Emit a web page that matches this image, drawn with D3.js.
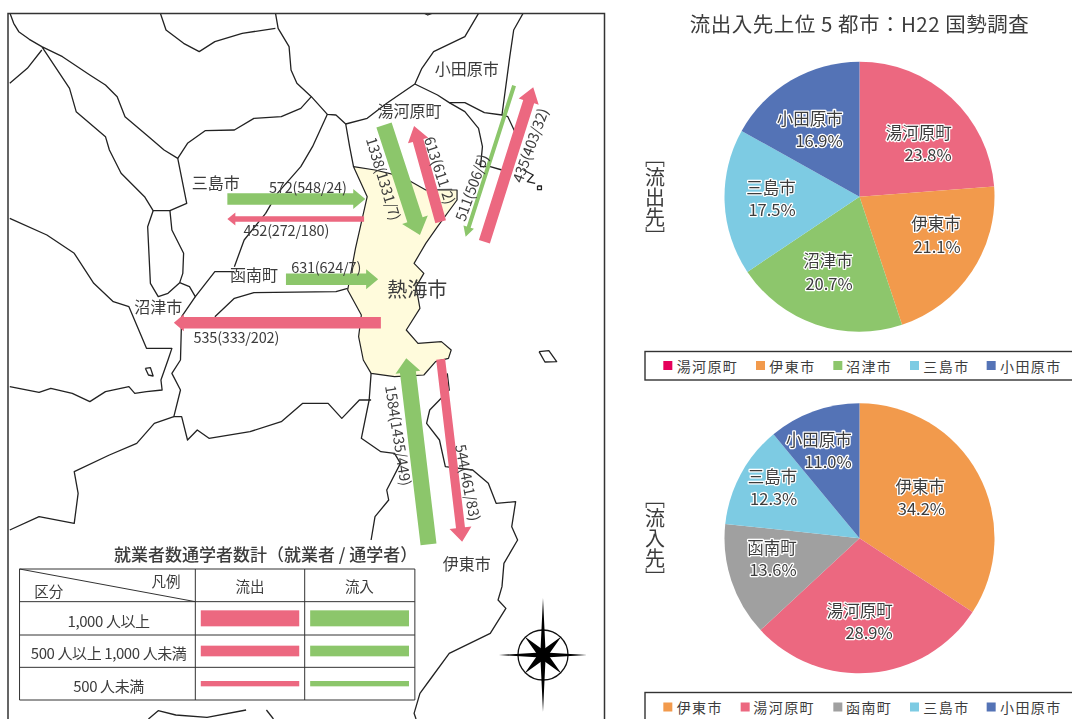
<!DOCTYPE html>
<html lang="ja"><head><meta charset="utf-8">
<script src="https://cdnjs.cloudflare.com/ajax/libs/d3/7.8.5/d3.min.js"></script>
<style>
html,body{margin:0;padding:0;background:#fff;overflow:hidden}
svg{display:block;filter:blur(.45px)}
text{font-family:"Noto Sans CJK JP","Noto Sans",sans-serif;fill:#3c3c3c}
</style></head><body><svg id="c" width="1072" height="719"></svg>
<script>
// ---------- chart data ----------
const titleText = "流出入先上位 5 都市：H22 国勢調査";
const outNames = ["湯河原町","伊東市","沼津市","三島市","小田原市"];
const outValues = [23.8,21.1,20.7,17.5,16.9];
const inNames = ["伊東市","湯河原町","函南町","三島市","小田原市"];
const inValues = [34.2,28.9,13.6,12.3,11.0];
const flowLabels = ["572(548/24)","452(272/180)","631(624/7)","535(333/202)","1338(1331/7)","613(611/2)","511(506/5)","435(403/32)","1584(1435/449)","544(461/83)"];
const flowKinds = ["in","out","in","out","in","out","in","out","in","out"];
const legendRows = ["1,000 人以上","500 人以上 1,000 人未満","500 人未満"];

// ---------- map geometry (map units) ----------
const boundaries = [
 [[25,38],[35,70],[48,95],[75,118],[107,140],[160,170],[230,225],[270,255],[300,290],[320,350],[385,415],[420,450],[455,475],[478,610],[435,632],[392,632],[370,590],[310,520],[280,450],[270,410],[195,335],[178,265],[107,140]],
 [[107,150],[70,205],[25,250]],
 [[455,475],[480,430],[525,392],[600,390],[650,355],[720,350],[770,325],[797,290],[760,250],[745,210],[740,140],[712,85],[705,38]],
 [[705,85],[620,100],[550,125],[510,155],[470,130],[425,90],[410,38]],
 [[797,290],[838,343],[860,345],[885,372],[895,440],[905,500]],
 [[885,372],[940,355],[990,310],[1062,252],[1080,205],[1110,155],[1190,110],[1225,40]],
 [[1062,252],[1120,285],[1150,308],[1190,308],[1240,338],[1285,345],[1300,350],[1318,395]],
 [[1150,308],[1190,335],[1225,385],[1235,440],[1230,500],[1255,500],[1285,510]],
 [[1340,38],[1315,90],[1305,170],[1285,345]],
 [[838,343],[800,440],[770,500],[710,580],[680,640],[625,720],[600,800]],
 [[600,815],[550,815],[520,860],[500,890],[485,860],[460,848],[430,880],[405,890],[385,850],[378,680],[392,632]],
 [[435,632],[440,690],[470,760],[468,820],[460,848]],
 [[500,890],[465,950],[462,1080],[440,1120],[462,1170],[445,1250],[465,1250],[480,1320],[505,1290],[535,1315],[640,1295],[720,1265],[775,1210],[840,1210],[875,1255],[920,1200],[950,1200]],
 [[25,655],[120,705],[190,760],[240,850],[290,905],[330,920],[375,1045],[440,1045],[430,1080],[412,1140],[415,1170],[375,1175],[345,1180],[330,1160],[270,1175],[230,1205],[185,1180],[130,1165],[100,1177],[25,1160]],
 [[550,950],[600,895],[650,878],[860,875],[890,865]],
 [[25,1590],[100,1550],[190,1570],[200,1480],[190,1415],[280,1365],[350,1330],[395,1270],[445,1250]],
 [[950,1120],[945,1200],[925,1315],[975,1355],[1010,1360],[1025,1390],[990,1470],[995,1500],[960,1550],[950,1620]],
 [[1145,1120],[1150,1170],[1100,1230],[1092,1270],[1125,1320],[1140,1400],[1210,1410],[1250,1450],[1270,1510],[1320,1505],[1310,1580],[1325,1620],[1290,1690],[1285,1760],[1275,1800],[1295,1825],[1255,1900],[1150,1960],[1100,2040],[1075,2080],[1060,2140],[1065,2157]],
 [[380,2157],[405,2132],[450,2145],[530,2152],[630,2130]],
 [[682,2130],[700,2157]],
 [[1080,36],[1095,45],[1115,36]],
 [[1380,1055],[1405,1052],[1425,1085],[1395,1086],[1380,1055]],
 [[372,1105],[385,1103],[392,1128],[380,1125],[372,1105]],
 [[1340,510],[1365,525],[1350,545],[1370,550]],
 [[1376,558],[1386,558],[1386,569],[1376,569],[1376,558]]
];
const atamiArea = [[905,500],[960,510],[1030,530],[1090,570],[1170,570],[1170,600],[1120,680],[1090,730],[1060,790],[1085,820],[1065,860],[1075,925],[1040,990],[1070,1030],[1130,1025],[1155,1050],[1148,1075],[1115,1085],[1085,1125],[1010,1130],[950,1120],[930,1080],[918,1010],[925,945],[890,870],[910,745],[940,590]];
const flowEnds = [
 [[582,597],[935,597]],[[932,657],[582,657]],[[732,838],[968,838]],[[975,968],[445,968]],
 [[983,375],[1075,705]],[[1128,665],[1060,378]],[[1316,257],[1192,710]],[[1240,725],[1365,262]],
 [[1097,1633],[1040,1075]],[[1128,1078],[1183,1625]]
];
const flowShape = [[11.5,20,12],[5.5,13,8],[11.5,20,12],[11.5,17,10],[16,27,16],[11,21,15],[4,11,10],[11.5,21,15],[16,25,14],[9,22,14]];
const flowLabelAt = [[788,558,0],[733,688,0],[835,800,0],[605,1008,0],[984,535,73],[1128,510,72],[1205,562,-70],[1355,435,-70],[1022,1306,81],[1200,1447,79]];
const placeNames = [["小田原市",1195,205,16],["湯河原町",1048,330,16],["三島市",552,547,16],["函南町",650,822,16],["沼津市",405,918,16],["伊東市",1195,1690,16],["熱海市",1068,866,20]];

// ---------- scales ----------
const svg = d3.select("#c");
const mx = d3.scaleLinear().domain([0,1560]).range([0,609.4]);
const my = d3.scaleLinear().domain([0,1080]).range([0,360]);
const line = d3.line().x(d=>mx(d[0])).y(d=>my(d[1]));
const pxLine = d3.line();
const flowColor = d3.scaleOrdinal().domain(["in","out"]).range(["#8cc66b","#ec6880"]);
const cityColor = d3.scaleOrdinal()
 .domain(["湯河原町","伊東市","沼津市","三島市","小田原市","函南町"])
 .range(["#ec6880","#f29a4c","#8dc66c","#7dcbe3","#5473b6","#a0a0a0"]);

// ---------- map ----------
svg.append("clipPath").attr("id","fr").append("rect").attr("x",8).attr("y",13).attr("width",597).attr("height",710);
const map = svg.append("g").attr("clip-path","url(#fr)");
map.selectAll("path.b").data(boundaries).join("path").attr("class","b")
 .attr("d",line).attr("fill","none").attr("stroke","#222").attr("stroke-width",1.3).attr("stroke-linejoin","round");
map.append("path").attr("d",line(atamiArea)+"Z").attr("fill","#fffbdc").attr("stroke","#222").attr("stroke-width",1.2).attr("stroke-linejoin","round");
svg.append("rect").attr("x",8).attr("y",13.5).attr("width",596.5).attr("height",720).attr("fill","none").attr("stroke","#333").attr("stroke-width",1.5);

function arrowPts(e,s){
 const a=[mx(e[0][0]),my(e[0][1])],b=[mx(e[1][0]),my(e[1][1])],[w,hw,hl]=s,dx=b[0]-a[0],dy=b[1]-a[1],L=Math.hypot(dx,dy),ux=dx/L,uy=dy/L,nx=-uy,ny=ux;
 const p=(t,o)=>[a[0]+ux*t+nx*o,a[1]+uy*t+ny*o];
 return [p(0,w/2),p(L-hl,w/2),p(L-hl,hw/2),p(L,0),p(L-hl,-hw/2),p(L-hl,-w/2),p(0,-w/2)];
}
map.selectAll("path.f").data(flowEnds).join("path").attr("class","f")
 .attr("d",(d,i)=>pxLine(arrowPts(d,flowShape[i]))+"Z").attr("fill",(d,i)=>flowColor(flowKinds[i]));
map.selectAll("text.fl").data(flowLabels).join("text").attr("class","fl")
 .attr("transform",(d,i)=>`translate(${mx(flowLabelAt[i][0])},${my(flowLabelAt[i][1])}) rotate(${flowLabelAt[i][2]})`)
 .attr("text-anchor","middle").attr("dominant-baseline","central")
 .attr("font-size",14.5).attr("letter-spacing",-.2).text(d=>d);
map.selectAll("text.pn").data(placeNames).join("text").attr("class","pn")
 .attr("x",d=>mx(d[1])).attr("y",d=>my(d[2])).attr("font-size",d=>d[3])
 .attr("text-anchor","middle").attr("dominant-baseline","central").text(d=>d[0]);

// ---------- map legend ----------
const lg = map.append("g");
const colX=[50,500,780,1062], rowY=[1707,1805,1905,2002,2100];
lg.append("text").attr("x",mx(680)).attr("y",my(1660)).attr("text-anchor","middle").attr("dominant-baseline","central")
 .attr("font-size",17).attr("font-weight",500).text("就業者数通学者数計（就業者 / 通学者）");
lg.append("rect").attr("x",mx(colX[0])).attr("y",my(rowY[0])).attr("width",mx(colX[3])-mx(colX[0])).attr("height",my(rowY[4])-my(rowY[0])).attr("fill","#fff");
lg.selectAll("line.r").data(rowY).join("line").attr("class","r").attr("x1",mx(colX[0])).attr("x2",mx(colX[3])).attr("y1",d=>my(d)).attr("y2",d=>my(d)).attr("stroke","#333");
lg.selectAll("line.c").data(colX).join("line").attr("class","c").attr("y1",my(rowY[0])).attr("y2",my(rowY[4])).attr("x1",d=>mx(d)).attr("x2",d=>mx(d)).attr("stroke","#333");
lg.append("line").attr("x1",mx(colX[0])).attr("y1",my(rowY[0])).attr("x2",mx(colX[1])).attr("y2",my(rowY[1])).attr("stroke","#333");
[["凡例",425,1740],["区分",125,1772],["流出",640,1757],["流入",920,1757]].forEach(t=>{
 lg.append("text").attr("x",mx(t[1])).attr("y",my(t[2])).attr("text-anchor","middle").attr("dominant-baseline","central").attr("font-size",14.5).text(t[0]);
});
const rowCy=[1855,1953,2051], barH=[48,32,16];
lg.selectAll("text.lr").data(legendRows).join("text").attr("class","lr").attr("x",mx(278)).attr("y",(d,i)=>my(rowCy[i]+5))
 .attr("text-anchor","middle").attr("dominant-baseline","central").attr("font-size",15).attr("letter-spacing",-.4).text(d=>d);
[[514,766,"out"],[794,1047,"in"]].forEach(c=>{
 lg.selectAll("rect.k"+c[2]).data(legendRows).join("rect").attr("class","k"+c[2])
  .attr("x",mx(c[0])).attr("width",mx(c[1])-mx(c[0])).attr("y",(d,i)=>my(rowCy[i]-barH[i]/2)).attr("height",(d,i)=>my(barH[i])).attr("fill",flowColor(c[2]));
});

// ---------- compass ----------
const cmp = map.append("g").attr("transform",`translate(${mx(1390)},${my(1965)})`);
cmp.append("circle").attr("r",25).attr("fill","none").attr("stroke","#111").attr("stroke-width",1.3);
const star=(rx,ry,w,a)=>cmp.append("path").attr("transform",`rotate(${a})`).attr("fill","#000")
 .attr("d",`M0 ${-ry}L${w} ${-w}L${rx} 0L${w} ${w}L0 ${ry}L${-w} ${w}L${-rx} 0L${-w} ${-w}Z`);
star(44,57,2.6,0); star(26,26,3.8,45);

// ---------- pies ----------
const arc = d3.arc().innerRadius(0).outerRadius(135);
const pie = d3.pie().sort(null);
function drawPie(names,vals,cx,cy,labelPos){
 const g = svg.append("g").attr("transform",`translate(${cx},${cy})`);
 g.selectAll("path").data(pie(vals)).join("path").attr("d",arc).attr("fill",(d,i)=>cityColor(names[i]));
 const t = svg.append("g");
 names.forEach((n,i)=>{
  const p=labelPos[i];
  [[n,p[1]],[vals[i].toFixed(1)+"%",p[2]]].forEach(r=>{
   t.append("text").attr("x",630+p[0]/3).attr("y",r[1]/3).attr("text-anchor","end").attr("dominant-baseline","central")
    .attr("font-size",16.5).attr("stroke","#fff").attr("stroke-width",2.6).attr("paint-order","stroke").attr("stroke-linejoin","round").text(r[0]);
  });
 });
}
drawPie(outNames,outValues,859.5,196.7,[[965,395,462],[992,670,738],[668,780,848],[497,560,628],[638,353,420]]);
drawPie(inNames,inValues,859.5,538.3,[[945,1458,1525],[788,1830,1897],[500,1640,1707],[502,1428,1495],[665,1317,1383]]);

// ---------- titles ----------
svg.append("text").attr("x",859.5).attr("y",23).attr("text-anchor","middle").attr("dominant-baseline","central").attr("font-size",20.5).attr("letter-spacing",.5).text(titleText);
[["［流出先］",197],["［流入先］",538]].forEach(d=>{
 svg.append("text").attr("transform",`translate(655,${d[1]})`).style("writing-mode","vertical-rl").attr("text-anchor","middle").attr("dominant-baseline","central")
  .attr("font-size",20).text(d[0]);
});

// ---------- pie legends ----------
function drawLegend(names,y0,y1,cy,sw,tx,first){
 svg.append("rect").attr("x",645).attr("y",y0).attr("width",440).attr("height",y1-y0).attr("fill","#fff").attr("stroke","#333").attr("stroke-width",1.4);
 names.forEach((n,i)=>{
  svg.append("rect").attr("x",630+sw[i]/3).attr("y",cy-4.5).attr("width",9).attr("height",9).attr("fill",(first&&i==0)?"#e5005a":cityColor(n));
  svg.append("text").attr("x",630+tx[i]/3).attr("y",cy).attr("dominant-baseline","central").attr("font-size",14).attr("letter-spacing",1.4).text(n);
 });
}
drawLegend(outNames,351.5,380,365.5,[100,378,610,840,1070],[140,418,648,880,1110],true);
drawLegend(inNames,692.5,740,707,[100,332,610,840,1070],[140,370,648,880,1110],false);
</script></body></html>
